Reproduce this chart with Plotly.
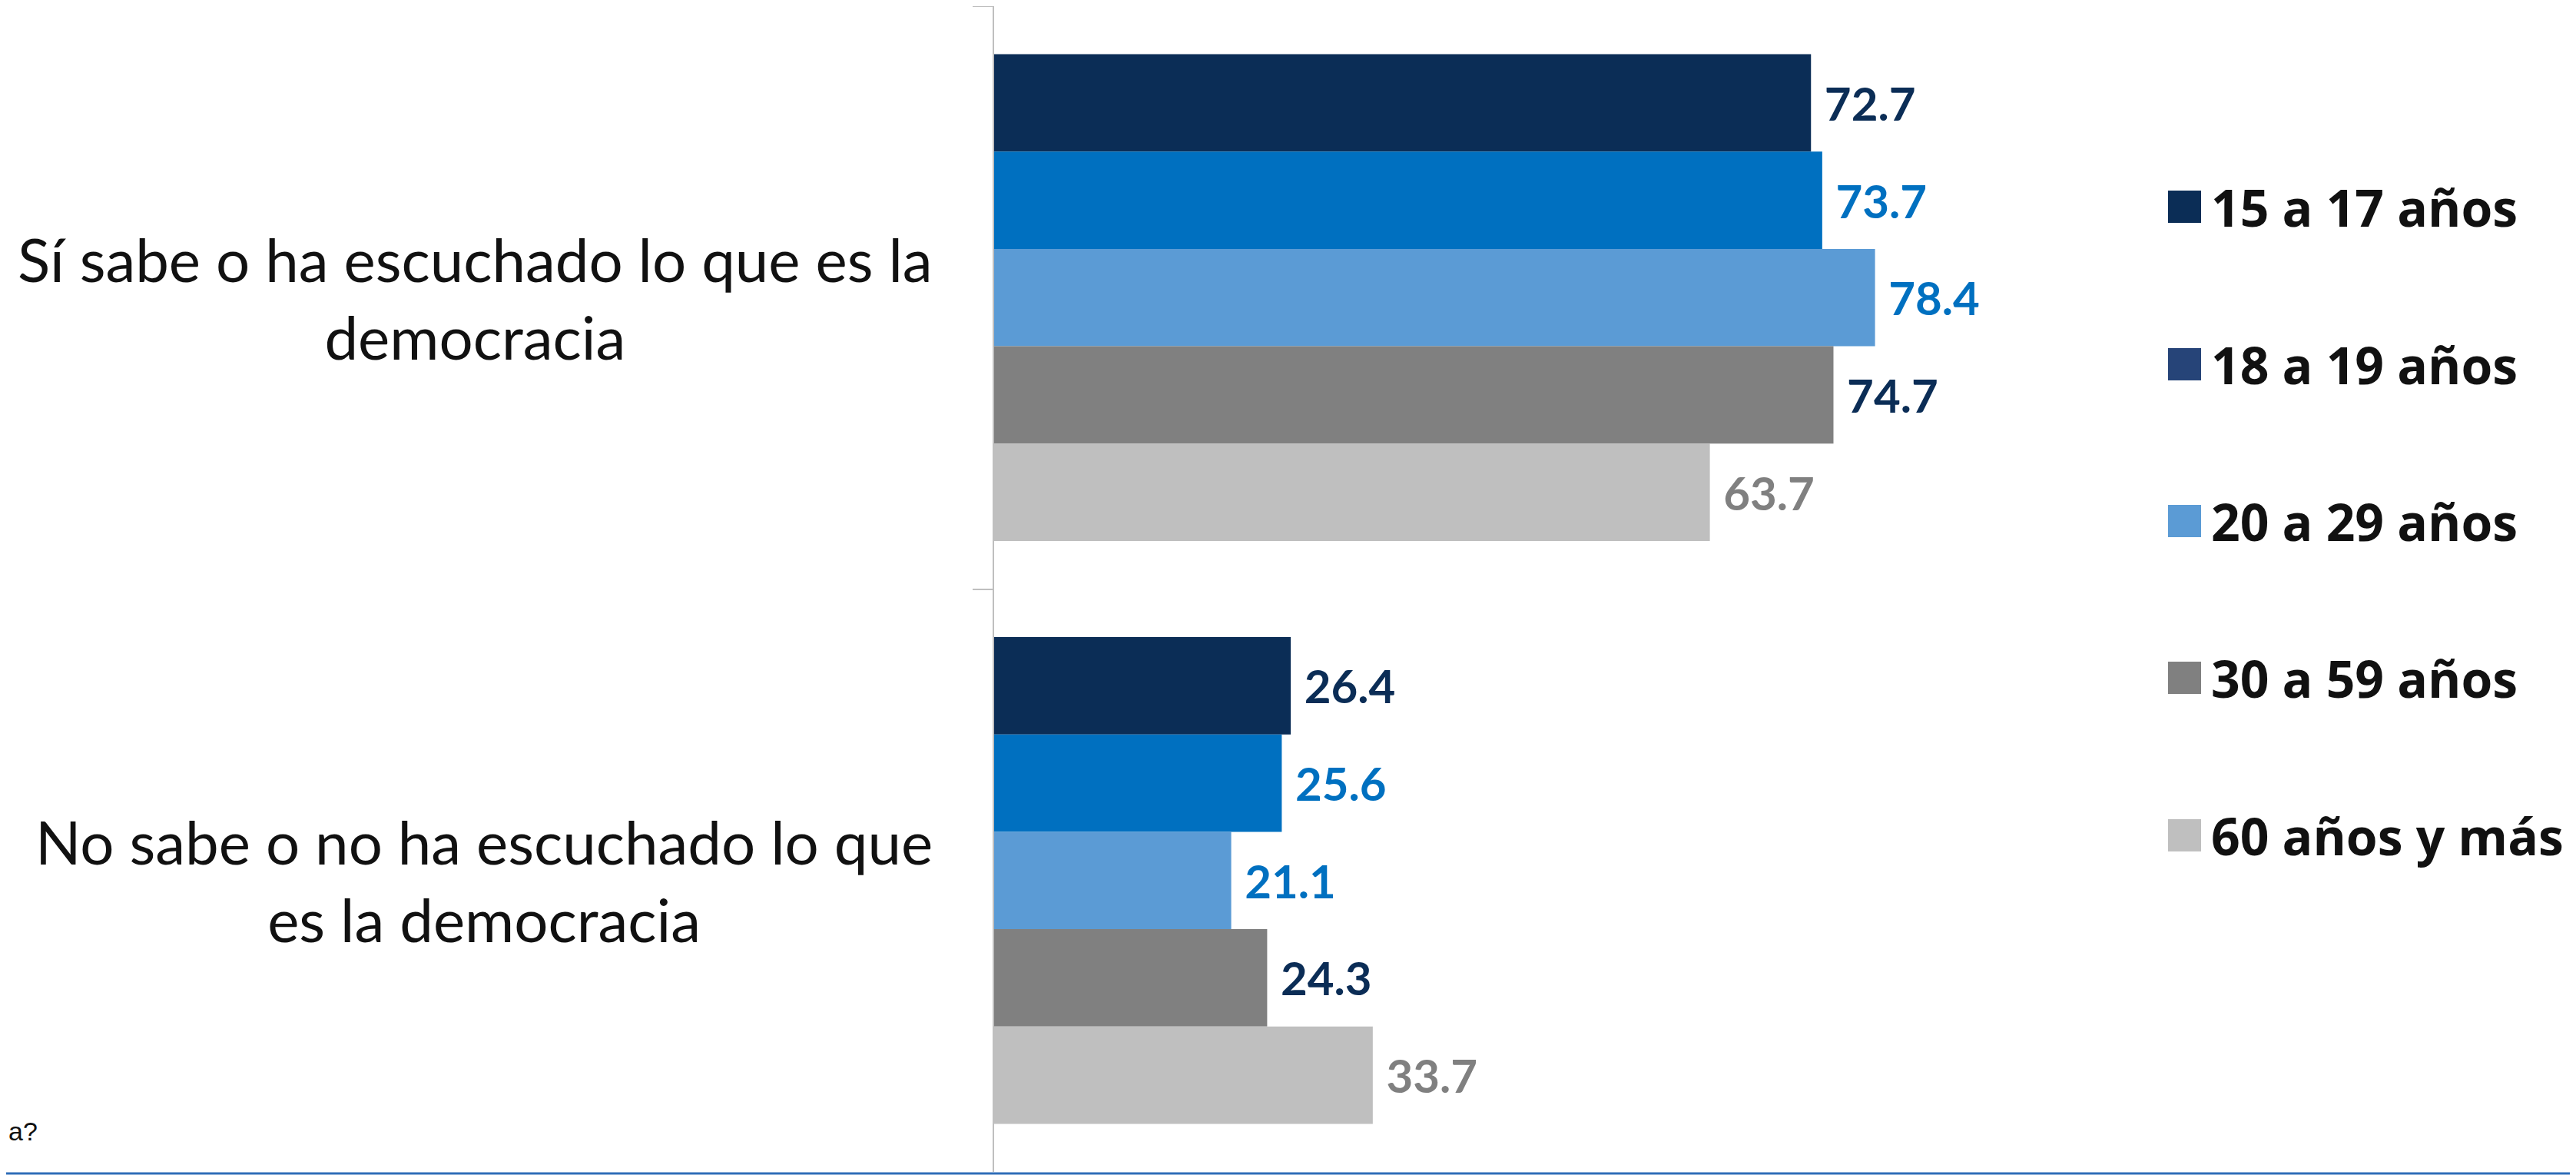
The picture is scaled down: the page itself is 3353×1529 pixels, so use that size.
import plotly.graph_objects as go

# ---------------- data ----------------
categories = ["Sí sabe o ha escuchado lo que es la democracia",
              "No sabe o no ha escuchado lo que es la democracia"]
category_labels = ["Sí sabe o ha escuchado lo que es la<br>democracia",
                   "No sabe o no ha escuchado lo que<br>es la democracia"]
series_names = ["15 a 17 años", "18 a 19 años", "20 a 29 años", "30 a 59 años", "60 años y más"]
v_15_17 = [72.7, 26.4]
v_18_19 = [73.7, 25.6]
v_20_29 = [78.4, 21.1]
v_30_59 = [74.7, 24.3]
v_60_mas = [63.7, 33.7]
series_values = [v_15_17, v_18_19, v_20_29, v_30_59, v_60_mas]

# ---------------- styles ----------------
bar_colors = ["#0B2D56", "#0070C0", "#5B9BD5", "#808080", "#BFBFBF"]
legend_colors = ["#0B2D56", "#264478", "#5B9BD5", "#808080", "#BFBFBF"]
label_colors = ["#0B2D56", "#0070C0", "#0070C0", "#0B2D56", "#808080"]

# page body has an 8px default margin: work in screen pixels, convert to figure pixels
OFF = 8
SW, SH = 3353, 1529
W, H = SW - OFF, SH - OFF
L, R, B = 1294 - OFF, 2698 - OFF, 1525 - OFF   # figure pixels
T = 0


def px_x(p):  # p in screen pixels
    return (p - OFF - L) / (R - L)


def px_y(p):
    return (B - (p - OFF)) / (B - T)


fig = go.Figure()
for name, vals, col, lcol in zip(series_names, series_values, bar_colors, label_colors):
    fig.add_trace(go.Bar(
        y=categories, x=vals, orientation="h", name=name,
        marker=dict(color=col, line=dict(width=0)),
        text=["\u00a0" + f"{v:.1f}" for v in vals],
        textposition="outside",
        textfont=dict(family="Lato", size=60, color=lcol, weight="bold"),
        cliponaxis=False, showlegend=False,
    ))

annotations = []
for cat, lab in zip(categories, category_labels):
    annotations.append(dict(
        x=px_x(1216), xref="paper", y=cat, yref="y", xanchor="right", yanchor="middle",
        text=lab, showarrow=False, align="center",
        font=dict(family="Lato", size=78, color="#111111"),
    ))

shapes = []
legend_y = [269, 474, 678, 882, 1087]
for name, col, ly in zip(series_names, legend_colors, legend_y):
    shapes.append(dict(type="rect", xref="paper", yref="paper",
                       x0=px_x(2822), x1=px_x(2865), y0=px_y(ly + 21), y1=px_y(ly - 21),
                       fillcolor=col, line=dict(width=0)))
    annotations.append(dict(
        x=px_x(2876), xref="paper", y=px_y(ly), yref="paper", xanchor="left", yanchor="middle",
        text=name, showarrow=False, font=dict(family="Open Sans", size=66, color="#111111", weight="bold"),
    ))

# bottom rule
shapes.append(dict(type="line", xref="paper", yref="paper",
                   x0=px_x(0), x1=px_x(SW), y0=px_y(1527), y1=px_y(1527),
                   line=dict(color="#2E6DB8", width=3)))

annotations.append(dict(
    x=px_x(OFF + 1), xref="paper", y=px_y(1472), yref="paper", xanchor="left", yanchor="middle",
    text="a?", showarrow=False, font=dict(family="Liberation Sans", size=34, color="#111111"),
))

fig.update_layout(
    width=W, height=H,
    margin=dict(l=L, r=W - R, t=T, b=H - B, pad=0),
    paper_bgcolor="white", plot_bgcolor="white",
    barmode="group", bargap=0.165, bargroupgap=0,
    showlegend=False,
    annotations=annotations, shapes=shapes,
    xaxis=dict(range=[0, 96], visible=False, showgrid=False, zeroline=False),
    yaxis=dict(type="category", categoryorder="array", categoryarray=categories,
               autorange="reversed", showticklabels=False, showgrid=False, zeroline=False,
               ticks="outside", tickson="boundaries", ticklen=26, tickwidth=2,
               tickcolor="#BFBFBF", showline=True, linecolor="#BFBFBF", linewidth=2),
)

fig.write_html("out.html")
